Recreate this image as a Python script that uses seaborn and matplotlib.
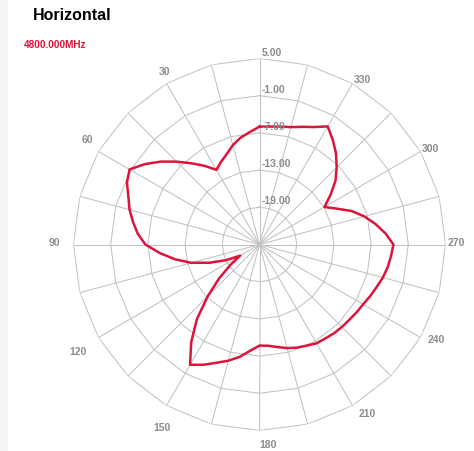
import numpy as np
import pandas as pd
import matplotlib
matplotlib.use("Agg")
import matplotlib.pyplot as plt
import matplotlib.transforms as mtransforms
from matplotlib.patches import Rectangle
import seaborn as sns

# Horizontal-plane radiation pattern at 4800 MHz, gain in dB sampled every 5 degrees
angles_deg = list(range(0, 360, 5))
gain_db = [
    -6.0, -6.8, -7.5, -8.4, -9.5, -10.3, -11.1, -9.5, -7.9, -6.1, -4.2, -2.4,
    -0.8, -1.4, -2.5, -3.3, -4.3, -5.3, -6.6, -8.9, -11.2, -13.6, -16.4, -19.0,
    -21.4, -19.3, -16.5, -13.2, -9.3, -5.8, -2.6, -3.6, -4.7, -5.6, -6.6, -7.8,
    -8.7, -8.6, -8.2, -7.7, -7.3, -7.0, -6.6, -6.5, -6.3, -6.2, -6.1, -5.9,
    -5.7, -5.3, -4.9, -4.4, -4.0, -3.7, -3.4, -4.6, -6.0, -7.5, -9.2, -11.3,
    -12.9, -11.0, -9.0, -7.4, -5.8, -4.4, -3.0, -4.1, -4.8, -5.4, -5.7, -5.9,
]

# Radial scale
r_min = -25.0
ring_levels = [-19.0, -13.0, -7.0, -1.0, 5.0]
ring_labels = ["-19.00", "-13.00", "-7.00", "-1.00", "5.00"]

# Angular scale
spoke_step = 15
angle_ticks = [30, 60, 90, 120, 150, 180, 210, 240, 270, 300, 330]
angle_labels = [str(a) for a in angle_ticks]

title = "Horizontal"
freq_label = "4800.000MHz"

RED = "#DC143C"
GRID = "#c2c2c2"
LABEL_GREY = "#8c8c8c"

plt.rcParams["font.family"] = ["Liberation Sans", "DejaVu Sans"]

W, H = 474, 452
fig = plt.figure(figsize=(W / 100, H / 100), dpi=100)
fig.patch.set_facecolor("white")
fig.patches.append(Rectangle((0, 0), 8 / W, 1, transform=fig.transFigure,
                             facecolor="#f5f5f5", edgecolor="none", zorder=-5))

# polar area: centre and outer radius in pixels
cx, cy, R = 259.5, 245.5, 186.0
ax = fig.add_axes([(cx - R) / W, (H - cy - R) / H, 2 * R / W, 2 * R / H],
                  projection="polar")
ax.set_theta_zero_location("N")
ax.set_theta_direction(1)
ax.set_ylim(r_min, ring_levels[-1])
ax.grid(False)
ax.set_xticks([])
ax.set_yticks([])
ax.spines["polar"].set_visible(False)
ax.patch.set_alpha(0)

# polygonal rings and spokes
spoke_angles = np.deg2rad(np.arange(0, 360 + spoke_step, spoke_step))
for lvl in ring_levels:
    ax.plot(spoke_angles, np.full(spoke_angles.shape, lvl), color=GRID,
            lw=0.75, zorder=1)
for t in spoke_angles[:-1]:
    ax.plot([t, t], [r_min, ring_levels[-1]], color=GRID, lw=0.75, zorder=1)

# pattern trace (closed)
df = pd.DataFrame({
    "theta": np.deg2rad(angles_deg + [360]),
    "gain": gain_db + [gain_db[0]],
})
sns.lineplot(data=df, x="theta", y="gain", sort=False, ax=ax, color=RED,
             lw=1.8, zorder=3)
ax.set_xlabel("")
ax.set_ylabel("")

# radial value labels along the 0-degree spoke
lab_tf = mtransforms.offset_copy(ax.transData, fig=fig, x=2, y=4, units="dots")
for lvl, lab in zip(ring_levels, ring_labels):
    ax.text(0, lvl, lab, transform=lab_tf, ha="left", va="baseline",
            fontsize=7.5, fontweight="bold", color=LABEL_GREY, zorder=4)

# angle labels outside the outer ring (pixel nudges: right, down)
nudge = {30: (-1.5, -12), 60: (-11, -12), 90: (-19, -2.5), 120: (-20, 14),
         150: (-4.5, 21), 180: (8.5, 13.5), 210: (14.5, 7.5), 240: (16, 1.5),
         270: (10.5, -2.5), 300: (9.5, -3.5), 330: (9.5, -4.5)}
for a, lab in zip(angle_ticks, angle_labels):
    dx, dy = nudge[a]
    tf = mtransforms.offset_copy(ax.transData, fig=fig, x=dx, y=-dy, units="dots")
    ax.text(np.deg2rad(a), ring_levels[-1], lab, transform=tf, ha="center",
            va="center", fontsize=7.5, fontweight="bold", color=LABEL_GREY,
            clip_on=False)

fig.text(33 / W, 1 - 15.5 / H, title, ha="left", va="center", fontsize=11.5,
         fontweight="bold", color="black")
fig.text(24 / W, 1 - 45 / H, freq_label, ha="left", va="center", fontsize=7.2,
         fontweight="bold", color=RED)

fig.savefig("out.png", dpi=100)
